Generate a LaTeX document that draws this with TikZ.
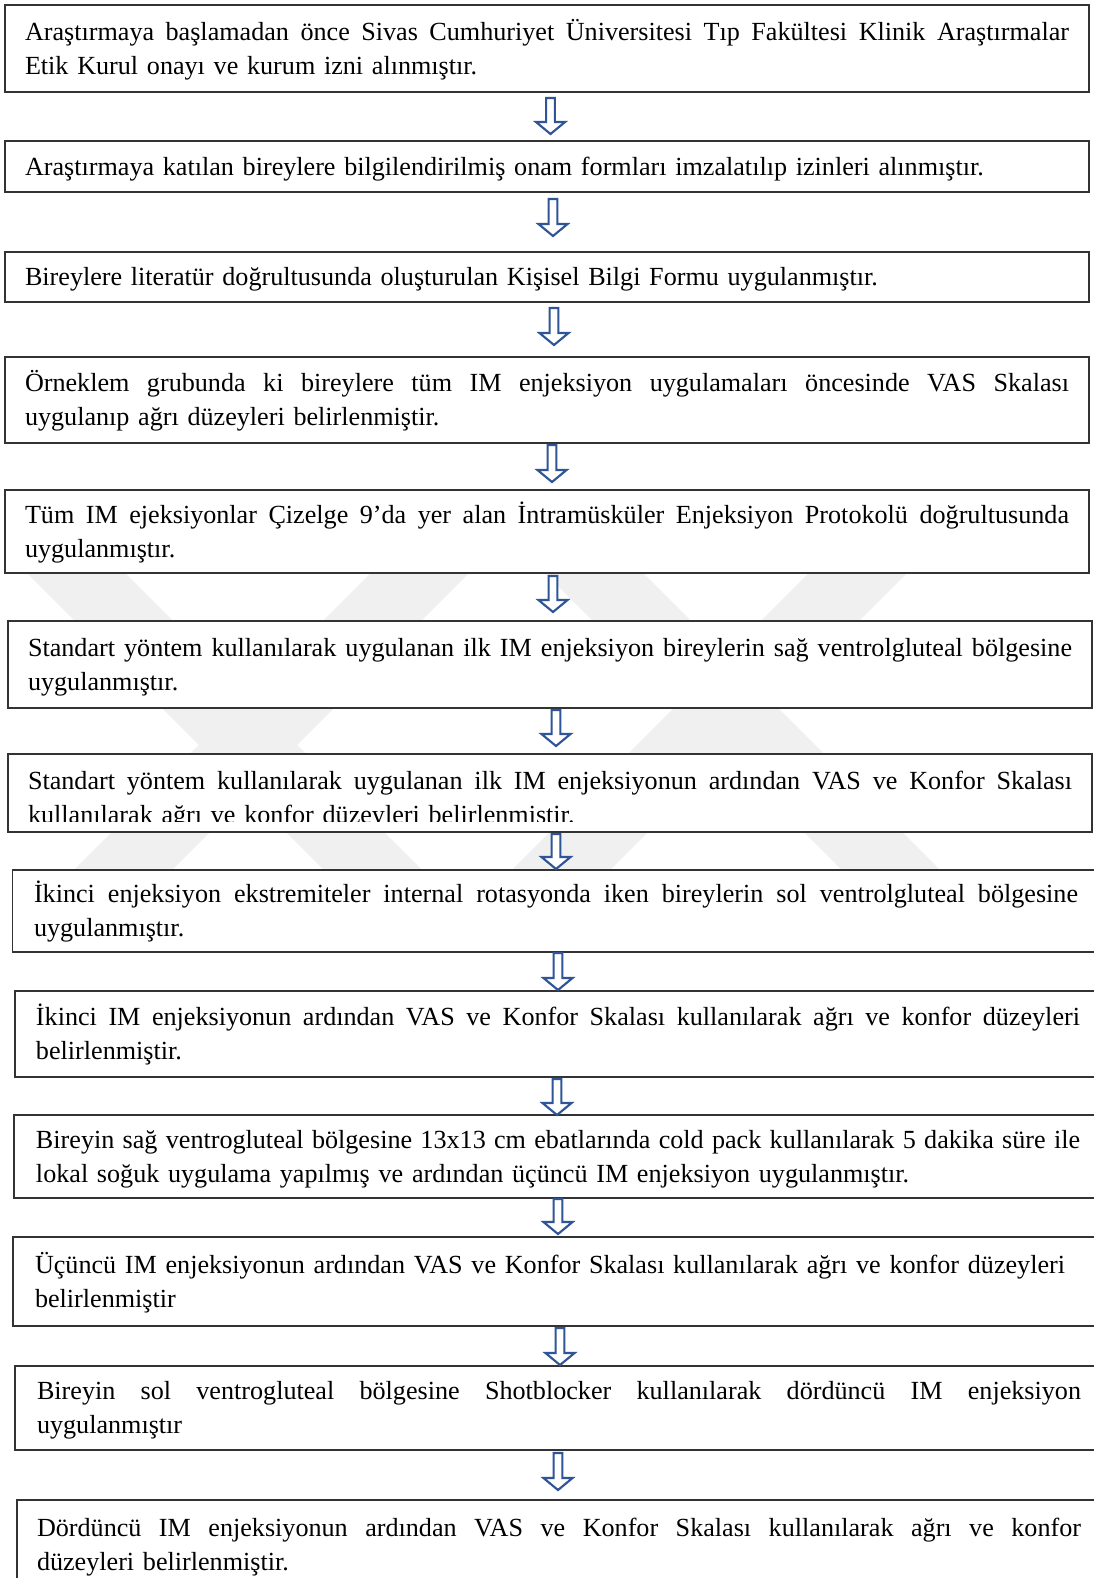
\documentclass[tikz,border=0pt]{standalone}
\usepackage{fontspec}
\setmainfont{Liberation Serif}
\usetikzlibrary{calc}
\definecolor{arrblue}{HTML}{2F5597}
\definecolor{wmgrey}{HTML}{F0F0F0}
\definecolor{boxline}{HTML}{333333}
\newlength\tw
\setlength\tw{783pt}
\newcommand\tstrut{\rule[-6pt]{0pt}{24.75pt}}
\newcommand\jline[1]{\makebox[\tw][s]{\spaceskip=0pt\xspaceskip=0pt #1}}
\newcommand\blockarrow[2]{%
  \draw[barr] let \p1=(#1), \p2=(#2) in
    (\x1-3.3pt,\y1) -- (\x1+3.3pt,\y1) -- (\x1+3.3pt,\y2+9pt) -- (\x1+10.9pt,\y2+9pt)
    -- (\x1,\y2) -- (\x1-10.9pt,\y2+9pt) -- (\x1-3.3pt,\y2+9pt) -- cycle;}
\tikzset{
  box/.style={draw=boxline, line width=1.1pt, fill=white, rectangle, inner ysep=0pt,
    font=\fontsize{19.6}{25.5}\selectfont, align=left, text width=783pt},
  txt/.style={box, draw=none, fill=none},
  barr/.style={draw=arrblue, line width=1.6pt, fill=white, line join=miter},
  wm/.style={draw=wmgrey, line width=52pt}
}
\begin{document}
\begin{tikzpicture}[x=0.75pt,y=-0.75pt]
\useasboundingbox (0,0) rectangle (1094,1578);
\clip (0,0) rectangle (1094,1578);
\fill[white] (0,0) rectangle (1094,1578);
% watermark
\begin{scope}
  \clip (0,560) rectangle (1094,900);
  \draw[wm] (-12,485) -- (508,1005);
  \draw[wm] (508,485) -- (-12,1005);
  \draw[wm] (466,445) -- (986,965);
  \draw[wm] (986,445) -- (466,965);
\end{scope}
% boxes
\node[box, inner xsep=15pt, minimum height=65.25pt] (b1) at (547,48.5)
  {\tstrut\jline{Araştırmaya başlamadan önce Sivas Cumhuriyet Üniversitesi Tıp Fakültesi Klinik Araştırmalar}\\Etik Kurul onayı ve kurum izni alınmıştır.\tstrut};
\node[box, inner xsep=15pt, minimum height=38.25pt] (b2) at (547,166.5)
  {\tstrut Araştırmaya katılan bireylere bilgilendirilmiş onam formları imzalatılıp izinleri alınmıştır.\tstrut};
\node[box, inner xsep=15pt, minimum height=37.5pt] (b3) at (547,277)
  {\tstrut Bireylere literatür doğrultusunda oluşturulan Kişisel Bilgi Formu uygulanmıştır.\tstrut};
\node[box, inner xsep=15pt, minimum height=64.5pt] (b4) at (547,400)
  {\tstrut\jline{Örneklem grubunda ki bireylere tüm IM enjeksiyon uygulamaları öncesinde VAS Skalası}\\uygulanıp ağrı düzeyleri belirlenmiştir.\tstrut};
\node[box, inner xsep=15pt, minimum height=62.25pt] (b5) at (547,531.5)
  {\tstrut\jline{Tüm IM ejeksiyonlar Çizelge 9’da yer alan İntramüsküler Enjeksiyon Protokolü doğrultusunda}\\uygulanmıştır.\tstrut};
\node[box, inner xsep=15pt, minimum height=65.25pt] (b6) at (550,664.5)
  {\tstrut\jline{Standart yöntem kullanılarak uygulanan ilk IM enjeksiyon bireylerin sağ ventrolgluteal bölgesine}\\uygulanmıştır.\tstrut};
\node[box, inner xsep=15pt, minimum height=58.5pt] (b7) at (550,793) {};
\begin{scope}
  \clip (b7.north west) rectangle ([yshift=8.25pt]b7.south east);
  \node[txt, inner xsep=15pt] (t7) at ([yshift=-3.75pt]b7.center)
    {\tstrut\jline{Standart yöntem kullanılarak uygulanan ilk IM enjeksiyonun ardından VAS ve Konfor Skalası}\\kullanılarak ağrı ve konfor düzeyleri belirlenmiştir.\tstrut};
\end{scope}
\node[box, inner xsep=16.1pt, minimum height=61.5pt] (b8) at (556,911)
  {\tstrut\jline{İkinci enjeksiyon ekstremiteler internal rotasyonda iken bireylerin sol ventrolgluteal bölgesine}\\uygulanmıştır.\tstrut};
\node[box, inner xsep=15.75pt, minimum height=64.5pt] (b9) at (558,1034)
  {\tstrut\jline{İkinci IM enjeksiyonun ardından VAS ve Konfor Skalası kullanılarak ağrı ve konfor düzeyleri}\\belirlenmiştir.\tstrut};
\node[box, inner xsep=16.5pt, minimum height=62.25pt] (b10) at (558,1156.5)
  {\tstrut\jline{Bireyin sağ ventrogluteal bölgesine 13x13 cm ebatlarında cold pack kullanılarak 5 dakika süre ile}\\lokal soğuk uygulama yapılmış ve ardından üçüncü IM enjeksiyon uygulanmıştır.\tstrut};
\node[box, inner xsep=16.5pt, minimum height=66.75pt] (b11) at (557,1281.5)
  {\tstrut\mbox{Üçüncü IM enjeksiyonun ardından VAS ve Konfor Skalası kullanılarak ağrı ve konfor düzeyleri}\\belirlenmiştir\tstrut};
\node[box, inner xsep=16.5pt, minimum height=63pt] (b12) at (559,1408)
  {\tstrut\jline{Bireyin sol ventrogluteal bölgesine Shotblocker kullanılarak dördüncü IM enjeksiyon}\\uygulanmıştır\tstrut};
\node[box, inner xsep=15pt, minimum height=67.5pt] (b13) at (559,1545)
  {\tstrut\jline{Dördüncü IM enjeksiyonun ardından VAS ve Konfor Skalası kullanılarak ağrı ve konfor}\\düzeyleri belirlenmiştir.\tstrut};
% arrows
\coordinate (a1s) at (550.5,98);  \coordinate (a1e) at (550.5,134);
\coordinate (a2s) at (553,199);   \coordinate (a2e) at (553,236);
\coordinate (a3s) at (554,308);   \coordinate (a3e) at (554,345);
\coordinate (a4s) at (552,445);   \coordinate (a4e) at (552,482);
\coordinate (a5s) at (553,576);   \coordinate (a5e) at (553,612);
\coordinate (a6s) at (556,710);   \coordinate (a6e) at (556,746);
\coordinate (a7s) at (556,834);   \coordinate (a7e) at (556,869);
\coordinate (a8s) at (558,953);   \coordinate (a8e) at (558,990);
\coordinate (a9s) at (557,1079);  \coordinate (a9e) at (557,1115);
\coordinate (a10s) at (558,1199); \coordinate (a10e) at (558,1234);
\coordinate (a11s) at (560,1328); \coordinate (a11e) at (560,1365);
\coordinate (a12s) at (558,1453); \coordinate (a12e) at (558,1490);
\foreach \i in {1,...,12} {\blockarrow{a\i s}{a\i e}}
\end{tikzpicture}
\end{document}
